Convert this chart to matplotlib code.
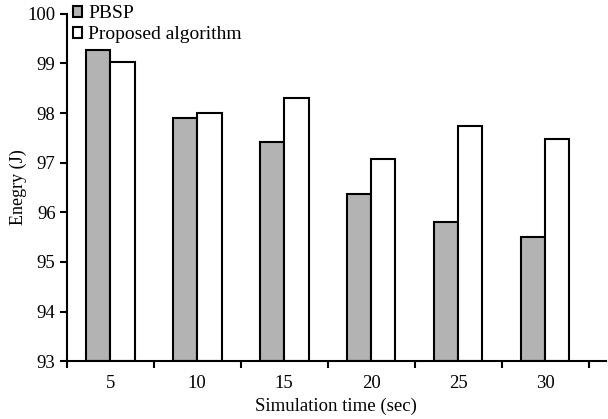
import matplotlib.pyplot as plt
import numpy as np

plt.rcParams['font.family'] = ['Liberation Serif', 'DejaVu Serif']

times = ['5', '10', '15', '20', '25', '30']
pbsp = [99.27, 97.9, 97.41, 96.36, 95.8, 95.5]
proposed = [99.02, 98.0, 98.3, 97.08, 97.73, 97.48]

x = np.arange(len(times))
w = 0.28

fig = plt.figure(figsize=(6.08, 4.19), dpi=100)
ax = fig.add_axes([0.1097, 0.138, 0.887, 0.829])

ax.bar(x - w / 2, np.array(pbsp) - 93, w, bottom=93, color='#b3b3b3',
       edgecolor='black', linewidth=1.5, label='PBSP')
ax.bar(x + w / 2, np.array(proposed) - 93, w, bottom=93, color='white',
       edgecolor='black', linewidth=1.5, label='Proposed algorithm')

ax.set_ylim(93, 100)
ax.set_xlim(-0.5, 5.7)
ax.set_yticks(range(93, 101))
ax.set_xticks(x)
ax.set_xticklabels(times)
ax.set_xticks(np.arange(-0.5, 5.6, 1), minor=True)
ax.tick_params(axis='x', which='major', length=0, pad=10)
ax.tick_params(axis='x', which='minor', length=5, width=1.5, direction='out')
ax.tick_params(axis='y', length=5, width=1.5, direction='out', pad=3)
ax.tick_params(labelsize=13.5)

for s in ['top', 'right']:
    ax.spines[s].set_visible(False)
for s in ['left', 'bottom']:
    ax.spines[s].set_linewidth(1.5)

ax.set_xlabel('Simulation time (sec)', fontsize=13.5, labelpad=4)
ax.set_ylabel('Enegry (J)', fontsize=13, labelpad=0)

ax.legend(loc='upper left', bbox_to_anchor=(0.011, 1.025), frameon=False,
          fontsize=14, handlelength=0.5, handleheight=0.5, handletextpad=0.3,
          labelspacing=0.2, borderaxespad=0, borderpad=0)

fig.savefig('out.png', dpi=100)
